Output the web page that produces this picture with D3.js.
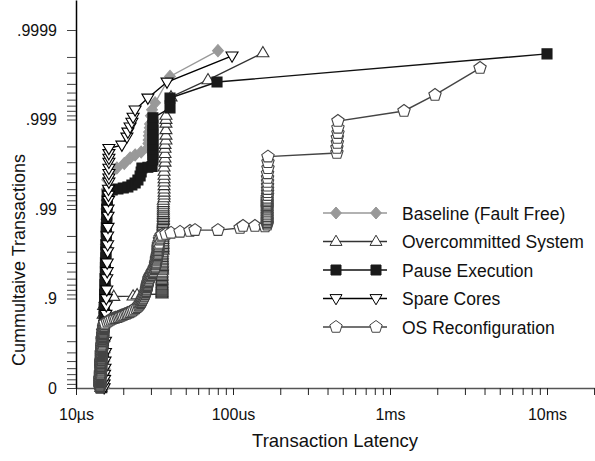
<!DOCTYPE html>
<html><head><meta charset="utf-8">
<script src="https://cdn.jsdelivr.net/npm/d3@7"></script>
<style>
body{margin:0;background:#fff}
svg{display:block}
text{font-family:"Liberation Sans",Arial,Helvetica,sans-serif;fill:#111}
</style>
</head><body>
<svg id="chart" width="595" height="461"></svg>
<script>
// ---- data: [latency in microseconds, cumulative fraction of transactions] ----
const seriesNames = ["Baseline (Fault Free)", "Overcommitted System", "Pause Execution", "Spare Cores", "OS Reconfiguration"];

const baseline = [
[15.1,0.01],[15.1,0.1],[15.1,0.2],[15.2,0.3],[15.2,0.4],[15.2,0.5],[15.3,0.6],[15.3,0.7],[15.3,0.8],[15.4,0.86],[15.4,0.9],[15.4,0.93],[15.5,0.95],[15.5,0.965],[15.5,0.975],[15.6,0.982],[15.6,0.987],[15.6,0.99],[15.7,0.992],[15.7,0.994],[15.8,0.9953],[16.5,0.9962],[18.2,0.99652],[20.3,0.9969],[22.1,0.99731],[23.8,0.99751],[26.0,0.99769],[28.7,0.99792],[28.9,0.99815],[29.0,0.99831],[29.1,0.99848],[29.2,0.99862],[29.5,0.99876],[29.6,0.99888],[30.0,0.99909],[30.5,0.99922],[31.9,0.99935],[39.7,0.99967],[80.2,0.99983]
];

const overcommitted = [
[14.4,0.01],[14.4,0.1],[14.5,0.2],[14.5,0.3],[14.6,0.4],[14.6,0.5],[14.7,0.6],[14.7,0.7],[14.8,0.8],[14.9,0.85],[15.0,0.88],[15.3,0.9],[17.4,0.905],[23.1,0.906],[24.5,0.909],
[35.3,0.911],[35.3,0.913],[35.3,0.915],[35.3,0.917],[35.3,0.919],[35.3,0.921],[35.3,0.923],[35.3,0.925],[35.3,0.927],[35.3,0.929],[35.3,0.931],[35.3,0.933],[35.3,0.935],[35.3,0.937],[35.3,0.939],[35.3,0.941],[35.3,0.943],[35.3,0.945],[35.3,0.947],[35.3,0.949],
[35.5,0.9515],[35.5,0.953],[35.5,0.9545],[35.5,0.956],[35.5,0.9575],[35.5,0.959],[35.5,0.9605],[35.5,0.962],[35.5,0.9635],[35.5,0.965],[35.5,0.9665],[35.5,0.968],[35.5,0.9695],
[35.8,0.971],[35.8,0.972],[35.8,0.973],[35.8,0.974],[35.8,0.975],[35.8,0.976],[35.8,0.977],[35.8,0.978],[35.8,0.979],[35.8,0.98],[35.8,0.9806],[35.8,0.9812],[35.8,0.9818],[35.8,0.9824],[35.8,0.983],[35.8,0.9836],[35.8,0.9842],[35.8,0.9848],[35.8,0.9854],[35.8,0.986],
[36.0,0.9865],[36.0,0.987],[36.0,0.9875],[36.0,0.988],[36.0,0.9885],[36.0,0.989],[36.0,0.9895],[36.0,0.99],[36.0,0.9905],[36.0,0.991],[36.0,0.9915],[36.0,0.992],
[36.4,0.9925],[36.4,0.993],[36.4,0.9935],[36.4,0.994],[36.4,0.9945],[36.4,0.995],[36.4,0.9954],[36.4,0.9958],[36.4,0.9962],[36.4,0.9966],
[36.9,0.997],[36.9,0.9973],[36.9,0.9976],[36.9,0.9979],[36.9,0.9981],[37.4,0.9983],[37.4,0.9985],[37.4,0.9987],[37.4,0.9989],[37.4,0.999],[37.4,0.9991],
[40.3,0.99944],[69.3,0.99964],[155,0.99982]
];

const pauseExecution = [
[14.6,0.01],[14.6,0.1],[14.7,0.2],[14.7,0.3],[14.8,0.4],[14.8,0.5],[14.9,0.6],[14.9,0.7],[15.0,0.75],[15.0,0.8],[15.1,0.84],[15.1,0.87],[15.2,0.9],[15.2,0.91],[15.3,0.92],[15.3,0.93],[15.3,0.94],[15.4,0.95],[15.4,0.955],[15.4,0.96],[15.5,0.965],[15.5,0.97],[15.5,0.975],[15.6,0.98],[15.6,0.982],[15.6,0.984],[15.7,0.986],[15.7,0.988],[15.7,0.99],[15.8,0.991],[15.8,0.992],[15.8,0.993],[16.2,0.9937],[17.0,0.99386],[18.5,0.99402],[20.0,0.99418],[21.4,0.99433],[22.7,0.99461],[23.8,0.99488],[24.8,0.99526],[25.6,0.99572],[26.0,0.99614],[26.3,0.99652],[28.7,0.99658],[30.5,0.99665],[30.9,0.99716],[30.9,0.99751],[30.9,0.99781],[30.9,0.99807],[30.9,0.99831],[30.9,0.99851],[30.9,0.99869],[30.9,0.99885],[30.9,0.99904],[39.7,0.999255],[39.7,0.999424],[79.1,0.999619],[10000,0.999815]
];

const spareCores = [
[15.1,0.01],[15.1,0.1],[15.2,0.2],[15.2,0.3],[15.3,0.4],[15.3,0.5],[15.4,0.6],[15.4,0.7],[15.5,0.8],[15.5,0.85],[15.6,0.88],[15.6,0.9],[15.7,0.92],[15.7,0.94],[15.8,0.95],[15.8,0.96],[15.9,0.97],[15.9,0.975],[15.9,0.98],[16.0,0.984],[16.0,0.988],[16.0,0.99],[16.1,0.992],[16.1,0.993],[16.1,0.994],[16.2,0.995],[16.2,0.9955],[16.2,0.996],[16.2,0.9965],[16.2,0.997],[16.2,0.9973],[16.2,0.9976],[16.2,0.9979],[19.6,0.99807],[21.1,0.99843],[21.4,0.99862],[22.1,0.99879],[22.7,0.99893],[23.1,0.99906],[23.8,0.99922],[28.7,0.999425],[38.0,0.999619],[98.6,0.999805]
];

const osReconfiguration = [
[14.2,0.002],[14.2,0.02],[14.2,0.04],[14.2,0.06],[14.2,0.08],[14.2,0.1],[14.2,0.12],[14.2,0.14],[14.2,0.16],[14.2,0.18],[14.2,0.2],[14.2,0.22],[14.3,0.24],[14.3,0.26],[14.3,0.28],[14.3,0.3],[14.3,0.32],[14.4,0.34],[14.4,0.36],[14.4,0.38],[14.4,0.4],
[14.4,0.41],[14.4,0.42],[14.4,0.43],[14.4,0.44],[14.4,0.45],[14.4,0.46],[14.4,0.47],[14.4,0.48],[14.4,0.49],[14.4,0.5],[14.5,0.51],[14.5,0.52],[14.5,0.53],[14.5,0.54],[14.5,0.55],[14.5,0.56],[14.5,0.57],[14.5,0.58],[14.5,0.59],[14.5,0.6],[14.6,0.61],[14.6,0.62],[14.6,0.63],[14.6,0.64],[14.6,0.65],[14.6,0.66],[14.6,0.67],[14.7,0.68],[14.7,0.69],[14.7,0.7],
[14.7,0.705],[14.7,0.71],[14.7,0.715],[14.7,0.72],[14.8,0.725],[14.8,0.73],[14.8,0.735],[14.8,0.74],[14.8,0.745],[14.8,0.75],[14.9,0.755],[14.9,0.76],[14.9,0.765],[14.9,0.77],[15.0,0.775],[15.0,0.78],[15.0,0.785],[15.0,0.79],[15.1,0.795],[15.1,0.8],[15.2,0.806],
[15.3,0.812],[15.8,0.818],[16.2,0.823],[16.6,0.827],[17.0,0.831],[17.5,0.834],[17.9,0.836],[18.4,0.838],[18.8,0.84],[19.2,0.843],[19.6,0.845],[20.0,0.847],[20.5,0.85],[21.0,0.852],[21.4,0.855],[21.9,0.857],[22.4,0.86],[22.9,0.863],[23.4,0.867],[24.0,0.871],[24.5,0.875],[25.0,0.879],[25.3,0.882],[25.6,0.885],[25.8,0.887],[26.0,0.89],[26.2,0.892],[26.3,0.895],[26.5,0.897],[26.7,0.9],[26.9,0.902],[27.1,0.905],[27.3,0.907],[27.5,0.91],[27.7,0.912],[27.9,0.915],[28.0,0.917],[28.1,0.92],[28.2,0.922],[28.3,0.925],[28.4,0.927],[28.5,0.929],[28.6,0.93],[28.7,0.932],[28.8,0.934],[29.0,0.936],[29.1,0.938],[29.2,0.94],[29.4,0.941],[29.6,0.943],[29.8,0.944],[30.0,0.945],[30.2,0.946],[30.5,0.948],[30.7,0.949],[30.9,0.95],[31.1,0.951],[31.4,0.953],[31.6,0.954],[31.9,0.955],[32.0,0.956],[32.1,0.958],[32.2,0.959],[32.3,0.96],[32.4,0.961],[32.5,0.963],[32.6,0.964],[32.8,0.965],[32.9,0.966],[33.0,0.967],[33.1,0.968],[33.3,0.969],[33.3,0.97],[33.3,0.971],[33.3,0.972],[33.3,0.973],[33.4,0.974],[33.5,0.975],[33.8,0.976],[34.0,0.978],[34.3,0.979],[34.8,0.98],[35.3,0.9805],
[37.4,0.981],[40.3,0.9815],[46.0,0.982],[53.2,0.9824],[57.3,0.9828],[80.2,0.9828],[111,0.9837],[115.8,0.9845],[138,0.9845],[160,0.9843],
[165,0.985],[165,0.9855],[165,0.986],[165,0.9865],[165,0.987],[165,0.9875],[165,0.988],[165,0.9885],[165,0.989],[165,0.9895],[165,0.99],[165,0.9903],[165,0.9906],[165,0.9909],[165,0.9912],[165,0.9915],[165,0.9918],[165,0.9921],[165,0.9925],[166,0.993],[166,0.9935],[166,0.994],[166,0.9945],[166,0.995],[166,0.9955],[166,0.996],[167,0.9965],[167,0.997],[167,0.9974],
[459,0.99763],[459,0.99792],[462,0.99817],[462,0.99839],[466,0.99858],[466,0.99876],[466,0.99896],[1228,0.999197],[1935,0.999468],[3745,0.999734]
];

const xTickLabels = {10: "10\u00b5s", 100: "100us", 1000: "1ms", 10000: "10ms"};
const yMajorTicks = [0, 0.9, 0.99, 0.999, 0.9999];
const yTickLabels = ["0", ".9", ".99", ".999", ".9999"];
const xTitle = "Transaction Latency";
const yTitle = "Cummultaive Transactions";

// ---- layout ----
const svg = d3.select("#chart");
const X0 = 76, Y0 = 388, DEC_X = 157, DEC_Y = 89.5;
const x = d3.scaleLog().domain([10, 20000]).range([X0, X0 + DEC_X * Math.log10(2000)]);
const nines = p => -Math.log10(1 - p);
const yN = d3.scaleLinear().domain([0, Y0 / DEC_Y]).range([Y0, 0]);
const y = p => yN(nines(p));

// x axis
const xTicks = [];
for (let d = 10; d <= 10000; d *= 10) for (let m = 1; m <= 9; m++) xTicks.push(d * m);
xTicks.push(20000);
const gx = svg.append("g").attr("transform", `translate(0,${Y0})`)
  .call(d3.axisBottom(x).tickValues(xTicks).tickSizeInner(7).tickSizeOuter(0).tickPadding(13.5)
    .tickFormat(v => xTickLabels[v] || ""));
gx.select(".domain").attr("stroke", "#555").attr("stroke-width", 1.3);
gx.selectAll(".tick line").attr("stroke", "#222");
gx.selectAll("text").style("font-size", "16px").attr("fill", "#111");

// y axis (nines scale): majors 0,.9,.99,... with 8 minor ticks per decade
const yTicks = [];
for (let d = 0; d < 4; d++) {
  const base = 1 - Math.pow(10, -d), step = Math.pow(10, -(d + 1));
  yTicks.push(base);
  for (let m = 1; m <= 8; m++) yTicks.push(base + m * step);
}
yTicks.push(0.9999);
const yTickNines = yTicks.map(p => nines(p));
const gy = svg.append("g").attr("transform", `translate(${X0},0)`)
  .call(d3.axisLeft(yN).tickValues(yTickNines).tickSizeInner(9).tickSizeOuter(0).tickPadding(10)
    .tickFormat((v) => {
      const i = yMajorTicks.findIndex(p => Math.abs(nines(p) - v) < 1e-6);
      return i >= 0 ? yTickLabels[i] : "";
    }));
gy.select(".domain").attr("stroke", "#000").attr("stroke-width", 1.5);
gy.selectAll(".tick line").attr("stroke", "#444");
gy.selectAll("text").style("font-size", "16px").attr("fill", "#111");

// titles
svg.append("text").attr("x", 335).attr("y", 447).attr("text-anchor", "middle")
  .style("font-size", "18.5px").text(xTitle);
svg.append("text").attr("transform", "translate(25,260) rotate(-90)").attr("text-anchor", "middle")
  .style("font-size", "18px").text(yTitle);

// marker shapes
const shapes = {
  diamond: r => `M0,${-r}L${r*0.9},0L0,${r}L${-r*0.9},0Z`,
  up: r => `M0,${-r*1.05}L${r},${r*0.65}L${-r},${r*0.65}Z`,
  square: r => `M${-r},${-r}H${r}V${r}H${-r}Z`,
  down: r => `M0,${r*1.05}L${r},${-r*0.65}L${-r},${-r*0.65}Z`,
  pentagon: r => {
    const pts = d3.range(5).map(i => {
      const a = -Math.PI / 2 + i * 2 * Math.PI / 5;
      return [r * Math.cos(a), r * Math.sin(a)];
    });
    return "M" + pts.map(p => p.join(",")).join("L") + "Z";
  }
};

const styles = [
  {data: baseline, shape: "diamond", r: 6, line: "#999", fill: "#999", stroke: "#999"},
  {data: overcommitted, shape: "up", r: 6, line: "#333", fill: "#fff", stroke: "#333"},
  {data: pauseExecution, shape: "square", r: 5, line: "#111", fill: "#1a1a1a", stroke: "#1a1a1a"},
  {data: spareCores, shape: "down", r: 6, line: "#000", fill: "#fff", stroke: "#000"},
  {data: osReconfiguration, shape: "pentagon", r: 6.5, line: "#444", fill: "#fff", stroke: "#444"}
];

const line = d3.line().x(d => x(d[0])).y(d => y(d[1]));
const plot = svg.append("g");
styles.forEach(s => {
  const g = plot.append("g");
  g.append("path").attr("d", line(s.data)).attr("fill", "none")
    .attr("stroke", s.line).attr("stroke-width", 1.4);
  g.selectAll("path.m").data(s.data).enter().append("path").attr("class", "m")
    .attr("transform", d => `translate(${x(d[0])},${y(d[1])})`)
    .attr("d", shapes[s.shape](s.r))
    .attr("fill", s.fill).attr("stroke", s.stroke).attr("stroke-width", 1.1);
});

// legend
const legend = svg.append("g");
const rowY = d3.scaleLinear().domain([0, 4]).range([213, 327]);
styles.forEach((s, i) => {
  const yy = rowY(i);
  legend.append("line").attr("x1", 323).attr("x2", 387).attr("y1", yy).attr("y2", yy)
    .attr("stroke", s.line).attr("stroke-width", 1.4);
  [336, 376].forEach(mx => legend.append("path")
    .attr("transform", `translate(${mx},${yy})`).attr("d", shapes[s.shape](s.r))
    .attr("fill", s.fill).attr("stroke", s.stroke).attr("stroke-width", 1));
  legend.append("text").attr("x", 402).attr("y", yy + 6.5).style("font-size", "17.5px").text(seriesNames[i]);
});
</script>
</body></html>
